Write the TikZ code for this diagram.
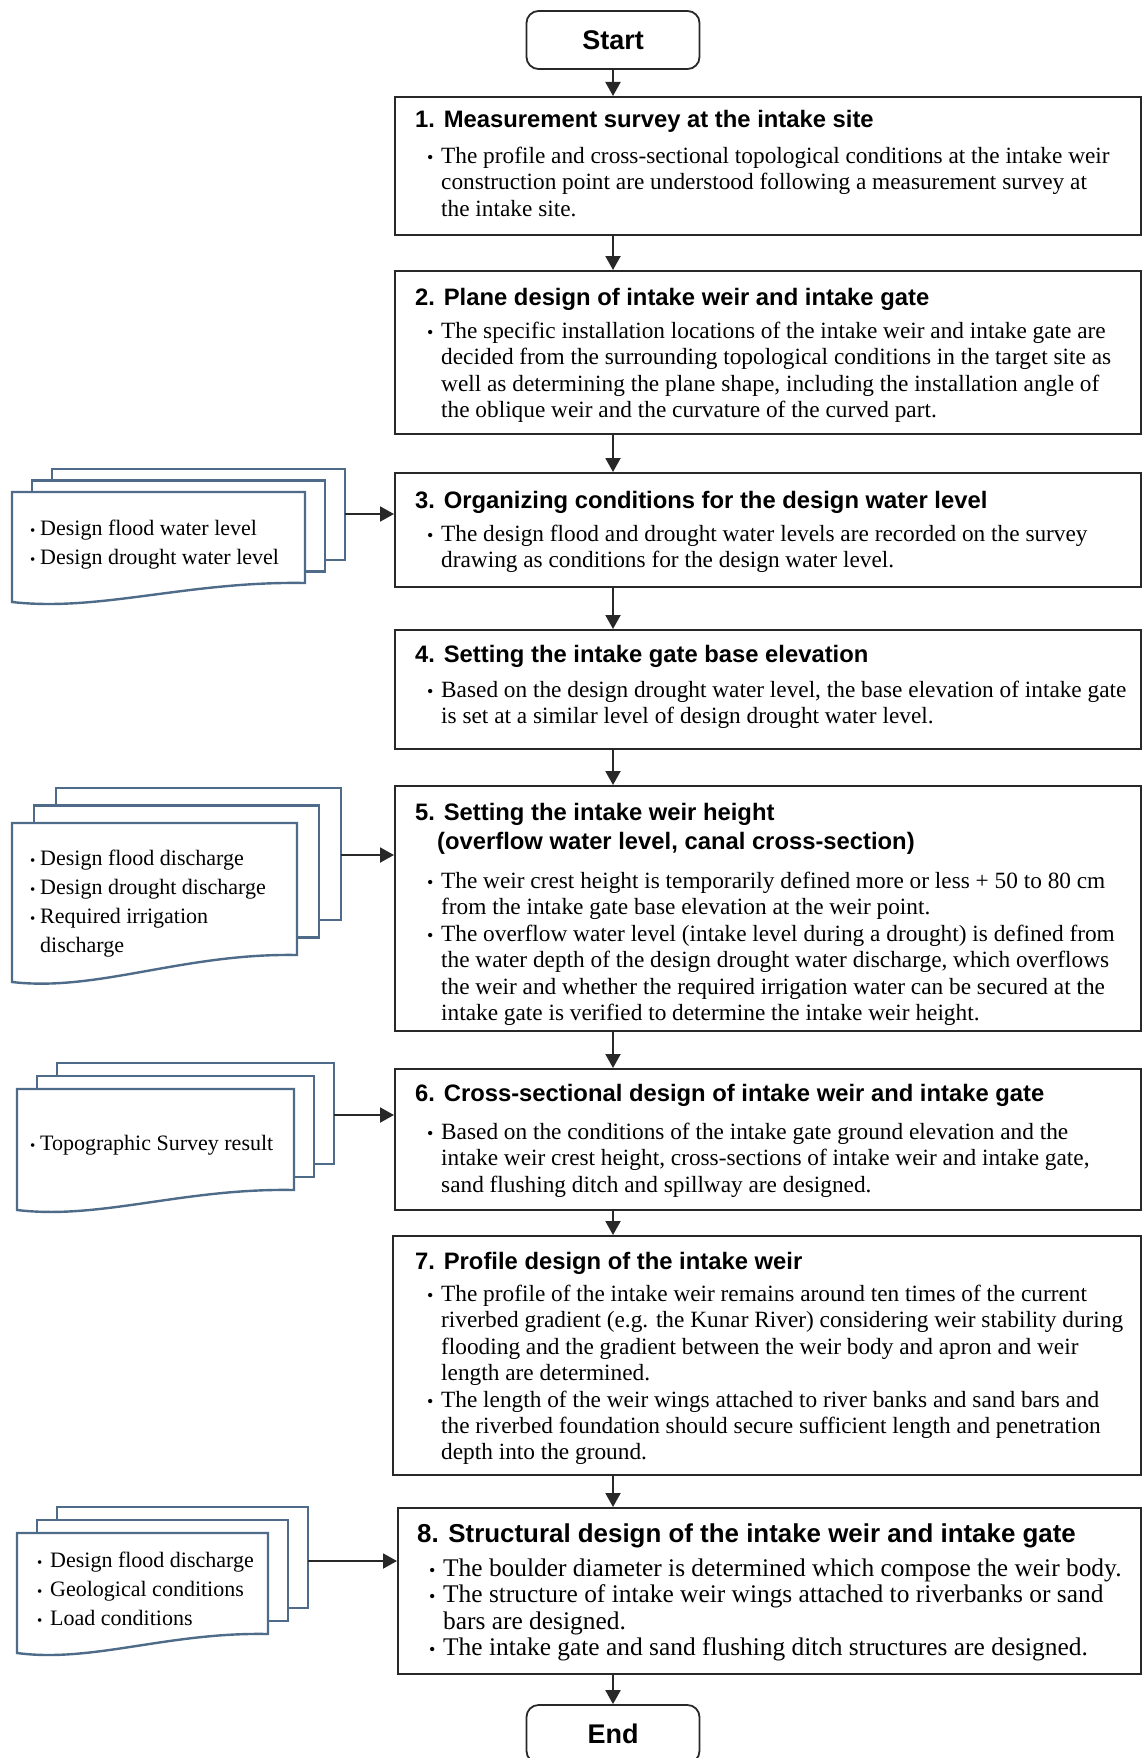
\documentclass[tikz,border=0pt]{standalone}
\usepackage{fontspec}
\setmainfont{Liberation Serif}
\newfontfamily\headfont{Liberation Sans}
\usetikzlibrary{arrows.meta}
\definecolor{boxline}{RGB}{40,40,40}
\definecolor{docblue}{RGB}{78,108,138}
\newcommand{\ttl}[1]{{\headfont\bfseries\fontsize{23.8}{26}\selectfont\rule{0pt}{18pt}#1}}
\newcommand{\bul}{\hspace*{12pt}\makebox[14pt][l]{\fontsize{18}{18}\selectfont\textbullet}}
\newcommand{\ind}{\hspace*{26pt}}
\newcommand{\dbul}{\makebox[10pt][l]{\fontsize{15}{15}\selectfont\textbullet}}
% stack of three sheets: name, left, right, top, bottom, dip, dx, dy, arrow y
\newcommand{\docstack}[9]{%
  \path[docsheet] (#2+2*#7,#4-2*#8) rectangle (#3+2*#7,#5-2*#8);
  \path[docsheet] (#2+#7,#4-#8) rectangle (#3+#7,#5-#8);
  \path[docsheet] (#3,#5) -- (#3,#4) -- (#2,#4) -- (#2,#5+#6)
    .. controls +({0.3*(#3-#2)},10) and +({-0.4*(#3-#2)},-2) .. (#3,#5) -- cycle;
  \coordinate (#1) at (#3+2*#7,#9);
}

\begin{document}
\begin{tikzpicture}[x=1pt,y=-1pt,>={Triangle[length=14pt,width=15pt]},
    stepbox/.style={draw=boxline,line width=1.8pt,anchor=north west,inner sep=0pt},
    steptext/.style={anchor=north west,inner sep=0pt,align=left,font=\fontsize{23.3}{26.4}\selectfont},
    doctext/.style={anchor=north west,inner sep=0pt,align=left,font=\fontsize{22}{29}\selectfont},
    term/.style={draw=boxline,line width=1.8pt,rounded corners=12pt,minimum width=173,minimum height=58,font=\headfont\bfseries\fontsize{27}{30}\selectfont},
    docsheet/.style={draw=docblue,line width=2.4pt,fill=white},
    flow/.style={->,color=boxline,line width=2pt}]
  \useasboundingbox (0,0) rectangle (1142,1758);

  \node[term] (start) at (613,40) {Start};

  \node[stepbox,minimum width=746,minimum height=138] (s1) at (394,96) {};
  \node[steptext] (t1) at (415,109.5) {\ttl{1. Measurement survey at the intake site}\\[9.4pt]
    \bul The profile and cross-sectional topological conditions at the intake weir\\
    \ind construction point are understood following a measurement survey at\\
    \ind the intake site.};

  \node[stepbox,minimum width=746,minimum height=163] (s2) at (394,270) {};
  \node[steptext] (t2) at (415,287.5) {\ttl{2. Plane design of intake weir and intake gate}\\[6.2pt]
    \bul The specific installation locations of the intake weir and intake gate are\\
    \ind decided from the surrounding topological conditions in the target site as\\
    \ind well as determining the plane shape, including the installation angle of\\
    \ind the oblique weir and the curvature of the curved part.};

  \node[stepbox,minimum width=746,minimum height=114] (s3) at (394,472) {};
  \node[steptext] (t3) at (415,490.5) {\ttl{3. Organizing conditions for the design water level}\\[6.2pt]
    \bul The design flood and drought water levels are recorded on the survey\\
    \ind drawing as conditions for the design water level.};

  \node[stepbox,minimum width=746,minimum height=119] (s4) at (394,629) {};
  \node[steptext] (t4) at (415,644.5) {\ttl{4. Setting the intake gate base elevation}\\[8.4pt]
    \bul Based on the design drought water level, the base elevation of intake gate\\
    \ind is set at a similar level of design drought water level.};

  \node[stepbox,minimum width=746,minimum height=245] (s5) at (394,785) {};
  \node[steptext] (t5) at (415,802.5) {\ttl{5. Setting the intake weir height}\\[2.6pt]
    \ttl{\hspace*{22pt}(overflow water level, canal cross-section)}\\[12.3pt]
    \bul The weir crest height is temporarily defined more or less + 50 to 80 cm\\
    \ind from the intake gate base elevation at the weir point.\\
    \bul The overflow water level (intake level during a drought) is defined from\\
    \ind the water depth of the design drought water discharge, which overflows\\
    \ind the weir and whether the required irrigation water can be secured at the\\
    \ind intake gate is verified to determine the intake weir height.};

  \node[stepbox,minimum width=746,minimum height=141] (s6) at (394,1068) {};
  \node[steptext] (t6) at (415,1083.5) {\ttl{6. Cross-sectional design of intake weir and intake gate}\\[11.4pt]
    \bul Based on the conditions of the intake gate ground elevation and the\\
    \ind intake weir crest height, cross-sections of intake weir and intake gate,\\
    \ind sand flushing ditch and spillway are designed.};

  \node[stepbox,minimum width=748,minimum height=239] (s7) at (392,1235) {};
  \node[steptext] (t7) at (415,1251.5) {\ttl{7. Profile design of the intake weir}\\[5.4pt]
    \bul The profile of the intake weir remains around ten times of the current\\
    \ind riverbed gradient (e.g. the Kunar River) considering weir stability during\\
    \ind flooding and the gradient between the weir body and apron and weir\\
    \ind length are determined.\\
    \bul The length of the weir wings attached to river banks and sand bars and\\
    \ind the riverbed foundation should secure sufficient length and penetration\\
    \ind depth into the ground.};

  \node[stepbox,minimum width=743,minimum height=166] (s8) at (397,1507) {};
  \node[steptext,font=\fontsize{25.4}{26.4}\selectfont] (t8) at (417,1523) {{\headfont\bfseries\fontsize{25.9}{26}\selectfont\rule{0pt}{19.5pt}8. Structural design of the intake weir and intake gate}\\[7.4pt]
    \bul The boulder diameter is determined which compose the weir body.\\
    \bul The structure of intake weir wings attached to riverbanks or sand\\
    \ind bars are designed.\\
    \bul The intake gate and sand flushing ditch structures are designed.};

  \node[term] (end) at (613,1734) {End};

  % input documents
  \docstack{d1}{12}{305}{492}{583}{19}{20}{11.5}{514}
  \node[doctext] (p1) at (30,519.5) {\dbul Design flood water level\\ \dbul Design drought water level};
  \docstack{d2}{12}{297}{823}{955}{27}{22}{17.5}{855}
  \node[doctext] (p2) at (30,849.5) {\dbul Design flood discharge\\ \dbul Design drought discharge\\
    \dbul Required irrigation\\ \hspace*{10pt}discharge};
  \docstack{d3}{17}{294}{1089}{1190}{20}{20}{13}{1115}
  \node[doctext] (p3) at (30,1135.5) {\dbul Topographic Survey result};
  \docstack{d4}{17}{268}{1533}{1634}{19}{20}{13}{1561}
  \node[doctext] (p4) at (37,1551.5) {\makebox[13pt][l]{\fontsize{15}{15}\selectfont\textbullet}Design flood discharge\\
    \makebox[13pt][l]{\fontsize{15}{15}\selectfont\textbullet}Geological conditions\\
    \makebox[13pt][l]{\fontsize{15}{15}\selectfont\textbullet}Load conditions};

  % flow
  \path[flow] (start) edge (start |- s1.north);
  \path[flow] (s1.south -| start) edge (s2.north -| start);
  \path[flow] (s2.south -| start) edge (s3.north -| start);
  \path[flow] (s3.south -| start) edge (s4.north -| start);
  \path[flow] (s4.south -| start) edge (s5.north -| start);
  \path[flow] (s5.south -| start) edge (s6.north -| start);
  \path[flow] (s6.south -| start) edge (s7.north -| start);
  \path[flow] (s7.south -| start) edge (s8.north -| start);
  \path[flow] (s8.south -| start) edge (end);
  \path[flow] (d1) edge (d1 -| s3.west);
  \path[flow] (d2) edge (d2 -| s5.west);
  \path[flow] (d3) edge (d3 -| s6.west);
  \path[flow] (d4) edge (d4 -| s8.west);
\end{tikzpicture}
\end{document}
